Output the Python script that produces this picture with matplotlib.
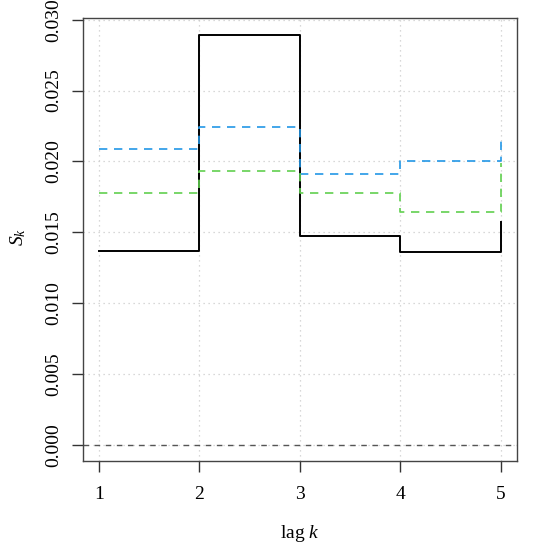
import numpy as np
import matplotlib.pyplot as plt

plt.rcParams['font.family'] = ['Liberation Serif', 'DejaVu Serif']
plt.rcParams['mathtext.fontset'] = 'custom'
plt.rcParams['mathtext.it'] = 'Liberation Serif:italic'
plt.rcParams['mathtext.rm'] = 'Liberation Serif'

lags = [1, 2, 3, 4, 5]
s_black = [0.0137, 0.0289, 0.0147, 0.0136, 0.0157]
s_blue = [0.0209, 0.0224, 0.0191, 0.0200, 0.0216]
s_green = [0.0178, 0.0193, 0.0178, 0.0164, 0.0199]
yticks = [0.000, 0.005, 0.010, 0.015, 0.020, 0.025, 0.030]

fig = plt.figure(figsize=(5.34, 5.5), dpi=100)
ax = fig.add_axes([0.1554, 0.1618, 0.8122, 0.805])

# grid
for x in lags:
    ax.axvline(x, color='#cccccc', linestyle=(0, (1, 3)), lw=0.9, zorder=0)
for y in yticks:
    ax.axhline(y, color='#cccccc', linestyle=(0, (1, 3)), lw=0.9, zorder=0)

ax.axhline(0, color='#555555', linestyle=(0, (4, 4)), lw=1.0)
ax.plot(lags, s_black, drawstyle='steps-post', color='black', lw=1.4)
ax.plot(lags, s_blue, drawstyle='steps-post', color='#2297E6', lw=1.2, dashes=(5, 4))
ax.plot(lags, s_green, drawstyle='steps-post', color='#61D04F', lw=1.2, dashes=(5, 4))

ax.set_xlim(0.84, 5.16)
ax.set_ylim(-0.00115, 0.0301)
ax.set_xticks(lags)
ax.set_xticklabels([str(k) for k in lags])
ax.set_yticks(yticks)
ax.set_yticklabels(['%.3f' % v for v in yticks], rotation=90, va='center')
ax.tick_params(direction='out', length=8, width=1, colors='#333333',
               labelsize=14, labelcolor='black', pad=10)
ax.tick_params(axis='y', pad=7)
for sp in ax.spines.values():
    sp.set_color('#444444')
    sp.set_linewidth(1.0)

fig.text(300 / 534, 1 - 534 / 550, r'lag $k$', fontsize=14, ha='center', va='center')
fig.text(18 / 534, 1 - 237 / 550, r'$S_k$', fontsize=14, ha='center', va='center',
         rotation=90)

fig.savefig('out.png', dpi=100)
